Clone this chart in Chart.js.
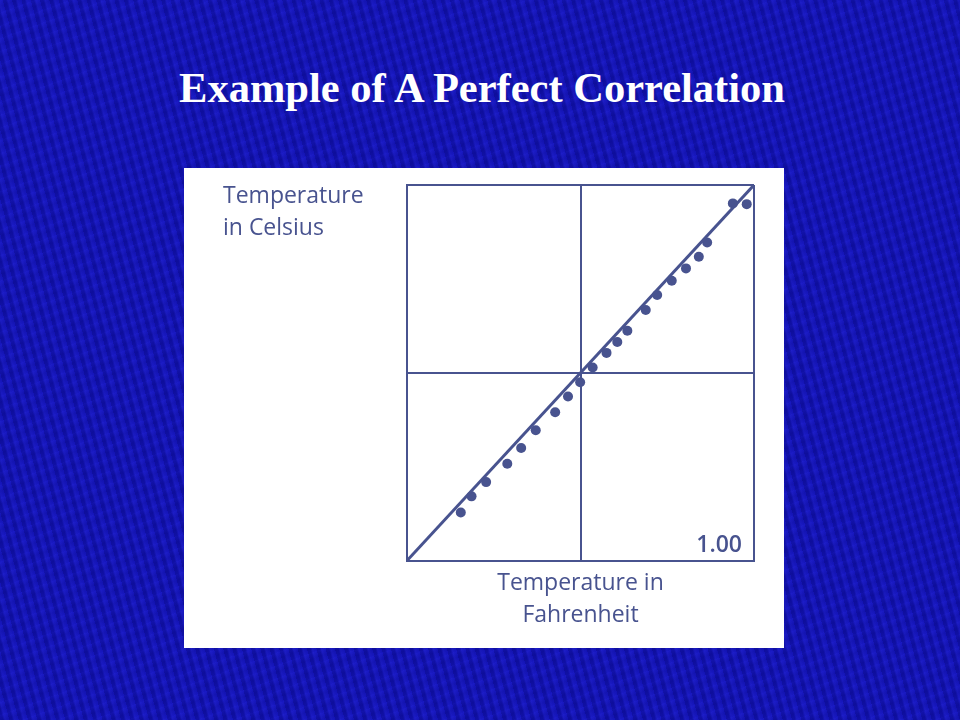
<!DOCTYPE html>
<html>
<head>
<meta charset="utf-8">
<script src="https://cdn.jsdelivr.net/npm/chart.js@4/dist/chart.umd.min.js"></script>
<style>
  html, body {
    margin: 0;
    padding: 0;
  }
  body {
    width: 960px;
    height: 720px;
    position: relative;
    overflow: hidden;
    background-color: #1515bb;
    background-image:
      repeating-linear-gradient(75deg, rgba(0,0,90,0.22) 0px, rgba(0,0,90,0.22) 3px, rgba(70,70,255,0.12) 5px, rgba(0,0,90,0.0) 9px),
      repeating-linear-gradient(160deg, rgba(50,50,240,0.12) 0px, rgba(0,0,100,0.15) 6px, rgba(50,50,240,0.0) 12px);
  }
  #title {
    position: absolute;
    left: 0;
    top: 63px;
    width: 964px;
    text-align: center;
    color: #ffffff;
    font-family: "Liberation Serif", "Times New Roman", serif;
    font-weight: bold;
    font-size: 42.5px;
    line-height: 50px;
  }
  #panel {
    position: absolute;
    left: 184px;
    top: 168px;
    width: 600px;
    height: 480px;
    background: #ffffff;
  }
</style>
</head>
<body>
<div id="title">Example of A Perfect Correlation</div>
<div id="panel"><canvas id="corrChart" width="600" height="480"></canvas></div>
<script>
// scatter points (0-100 scale on both axes)
const fahrenheit = [15.5, 18.6, 22.8, 28.9, 32.9, 37.1, 42.7, 46.4, 49.9, 53.5, 57.5,
                    60.6, 63.5, 68.8, 72.1, 76.3, 80.4, 84.1, 86.5, 93.9, 97.9];
const celsius = [12.8, 17.1, 20.9, 25.8, 30.0, 34.7, 39.5, 43.7, 47.5, 51.4, 55.3,
                 58.2, 61.2, 66.7, 70.7, 74.5, 77.8, 80.9, 84.7, 95.1, 94.9];
const fitLine = [[0, 0], [100, 100]];
const axisMin = 0;
const axisMax = 100;
const yLabel = ['Temperature', 'in Celsius'];
const xLabel = ['Temperature in', 'Fahrenheit'];
const corrText = '1.00';

const ink = '#48538f';

const labelsPlugin = {
    id: 'labels',
    afterDraw(chart) {
        const ctx = chart.ctx;
        const area = chart.chartArea;
        ctx.save();
        ctx.fillStyle = ink;
        ctx.font = '23px "Open Sans", sans-serif';
        ctx.textAlign = 'left';
        ctx.textBaseline = 'alphabetic';
        ctx.fillText(yLabel[0], 39, 35);
        ctx.fillText(yLabel[1], 39, 67);
        ctx.font = '600 23px "Open Sans", sans-serif';
        ctx.textAlign = 'right';
        ctx.fillText(corrText, area.right - 12, area.bottom - 9);
        ctx.restore();
    }
};

const points = fahrenheit.map((f, i) => ({ x: f, y: celsius[i] }));

new Chart(document.getElementById('corrChart').getContext('2d'), {
    type: 'scatter',
    data: {
        datasets: [{
            label: 'fit',
            type: 'line',
            data: fitLine.map(p => ({ x: p[0], y: p[1] })),
            borderColor: ink,
            borderWidth: 3,
            pointRadius: 0,
            fill: false
        }, {
            label: 'points',
            data: points,
            backgroundColor: ink,
            borderColor: ink,
            pointRadius: 5,
            borderWidth: 0
        }]
    },
    options: {
        responsive: false,
        animation: false,
        layout: {
            padding: { left: 223, right: 30, top: 17, bottom: 10 }
        },
        plugins: {
            legend: { display: false },
            tooltip: { enabled: false }
        },
        scales: {
            x: {
                type: 'linear',
                min: axisMin,
                max: axisMax,
                ticks: { display: false, stepSize: 50 },
                grid: { color: ink, lineWidth: 2, drawTicks: false },
                border: { color: ink, width: 2 },
                title: {
                    display: true,
                    text: xLabel,
                    color: ink,
                    font: { family: '"Open Sans", sans-serif', size: 23, lineHeight: 1.4 },
                    padding: { top: 7, bottom: 6 }
                }
            },
            y: {
                type: 'linear',
                min: axisMin,
                max: axisMax,
                ticks: { display: false, stepSize: 50 },
                grid: { color: ink, lineWidth: 2, drawTicks: false },
                border: { color: ink, width: 2 }
            }
        }
    },
    plugins: [labelsPlugin]
});
</script>
</body>
</html>
